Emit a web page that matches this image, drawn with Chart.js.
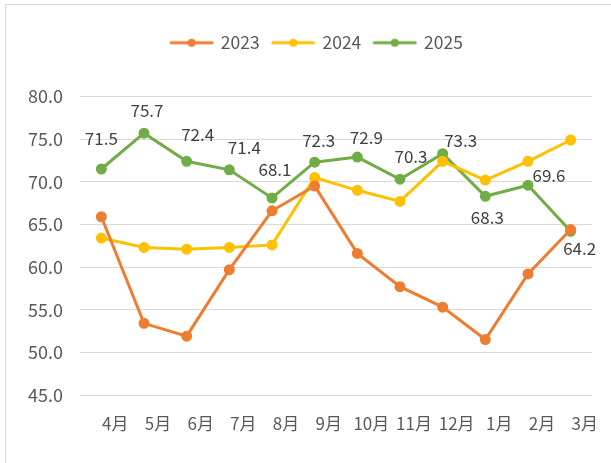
<!DOCTYPE html>
<html>
<head>
<meta charset="utf-8">
<script src="https://cdn.jsdelivr.net/npm/chart.js@4.4.1/dist/chart.umd.min.js"></script>
<style>
  html, body { margin: 0; padding: 0; background: #fff; overflow: hidden; }
  #frame { position: absolute; left: 5px; top: 4px; width: 700px; height: 600px; border: 1px solid #d9d9d9; }
  #chart { position: absolute; left: 0; top: 0; }
</style>
</head>
<body>
<div id="frame"></div>
<canvas id="chart" width="611" height="463"></canvas>
<script>
const months = ['4月', '5月', '6月', '7月', '8月', '9月', '10月', '11月', '12月', '1月', '2月', '3月'];
const seriesNames = ['2023', '2024', '2025'];
const values2023 = [65.9, 53.4, 51.9, 59.7, 66.6, 69.5, 61.6, 57.7, 55.3, 51.5, 59.2, 64.4];
const values2024 = [63.4, 62.3, 62.1, 62.3, 62.6, 70.5, 69.0, 67.7, 72.4, 70.2, 72.4, 74.9];
const values2025 = [71.5, 75.7, 72.4, 71.4, 68.1, 72.3, 72.9, 70.3, 73.3, 68.3, 69.6, 64.2];
const yTicks = { min: 45, max: 80, step: 5 };

// where each 2025 value label sits relative to its point (Excel placed them by hand)
const labelShift2025 = [[0, -30], [3, -23], [11, -27], [15, -22], [3, -28], [4, -22],
                        [9, -20], [11, -23], [18, -13], [2, 21], [21, -10], [9, 17]];

const COLORS = ['#ED7D31', '#FFC000', '#70AD47'];
const FONT = "'Noto Sans CJK SC', 'Noto Sans', sans-serif";
const AXIS_TEXT = '#595959';

const legendMarker = (color) => {
    const c = document.createElement('canvas');
    c.width = 45;
    c.height = 10;
    const ctx = c.getContext('2d');
    ctx.strokeStyle = color;
    ctx.lineWidth = 3;
    ctx.lineCap = 'round';
    ctx.beginPath();
    ctx.moveTo(2, 5);
    ctx.lineTo(43, 5);
    ctx.stroke();
    ctx.fillStyle = color;
    ctx.beginPath();
    ctx.arc(22.5, 5, 4, 0, Math.PI * 2);
    ctx.fill();
    return c;
};

const makeDataset = (name, data, color) => ({
    label: name,
    data,
    borderColor: color,
    backgroundColor: color,
    borderWidth: 3,
    pointRadius: 4,
    pointHoverRadius: 4,
    pointBackgroundColor: color,
    pointBorderColor: color,
    pointStyle: 'circle',
    tension: 0,
    fill: false
});

// more room under the legend, and nudge it right like the original
const legendGap = {
    id: 'legendGap',
    beforeLayout(chart) {
        const lg = chart.legend;
        if (lg && !lg._gapPatched) {
            const fit = lg.fit;
            lg.fit = function () {
                fit.call(this);
                this.height += 35;
            };
            lg._gapPatched = true;
        }
    },
    afterLayout(chart) {
        if (chart.legend) chart.legend.left += 42;
    }
};

const valueLabels = {
    id: 'valueLabels',
    afterDatasetsDraw(chart) {
        const ctx = chart.ctx;
        const meta = chart.getDatasetMeta(2);
        ctx.save();
        ctx.font = '17px ' + FONT;
        ctx.fillStyle = '#404040';
        ctx.textAlign = 'center';
        ctx.textBaseline = 'middle';
        meta.data.forEach((pt, i) => {
            const [dx, dy] = labelShift2025[i];
            ctx.fillText(values2025[i].toFixed(1), pt.x + dx, pt.y + dy);
        });
        ctx.restore();
    }
};

new Chart(document.getElementById('chart'), {
    type: 'line',
    data: {
        labels: months,
        datasets: [
            makeDataset(seriesNames[0], values2023, COLORS[0]),
            makeDataset(seriesNames[1], values2024, COLORS[1]),
            makeDataset(seriesNames[2], values2025, COLORS[2])
        ]
    },
    options: {
        responsive: false,
        animation: false,
        devicePixelRatio: 1,
        layout: { padding: { top: 21, left: 0, right: 19, bottom: 0 } },
        plugins: {
            tooltip: { enabled: false },
            legend: {
                position: 'top',
                align: 'center',
                labels: {
                    usePointStyle: true,
                    pointStyleWidth: 41,
                    padding: 13,
                    color: AXIS_TEXT,
                    font: { family: FONT, size: 17.5 },
                    generateLabels: (chart) => chart.data.datasets.map((ds, i) => ({
                        text: ds.label,
                        fillStyle: ds.borderColor,
                        strokeStyle: ds.borderColor,
                        lineWidth: 0,
                        pointStyle: legendMarker(ds.borderColor),
                        fontColor: AXIS_TEXT,
                        hidden: false,
                        datasetIndex: i
                    }))
                }
            }
        },
        scales: {
            x: {
                offset: true,
                grid: { display: false, drawTicks: false },
                border: { display: false },
                ticks: {
                    color: AXIS_TEXT,
                    font: { family: FONT, size: 17 },
                    padding: 18,
                    labelOffset: 14,
                    maxRotation: 0,
                    autoSkip: false
                },
                afterFit: (scale) => { scale.height = 68; }
            },
            y: {
                min: yTicks.min,
                max: yTicks.max,
                grid: { color: '#d9d9d9', lineWidth: 1, drawTicks: false },
                border: { display: false },
                ticks: {
                    stepSize: yTicks.step,
                    color: AXIS_TEXT,
                    font: { family: FONT, size: 18 },
                    padding: 17,
                    callback: (v) => v.toFixed(1)
                },
                afterFit: (scale) => { scale.width = 80; }
            }
        }
    },
    plugins: [legendGap, valueLabels]
});
</script>
</body>
</html>
